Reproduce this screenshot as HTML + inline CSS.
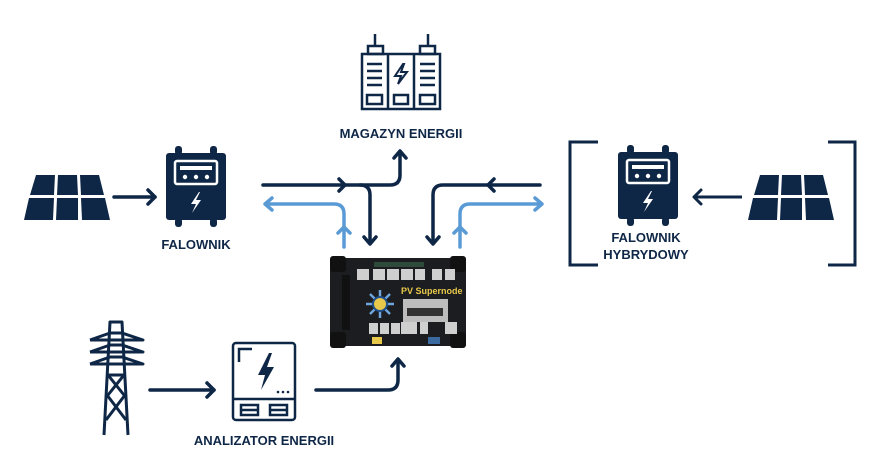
<!DOCTYPE html>
<html><head><meta charset="utf-8"><style>
html,body{margin:0;padding:0;background:#fff;}
svg{display:block;}
text{font-family:"Liberation Sans",sans-serif;font-weight:bold;fill:#0f2747;}
</style></head><body>
<svg width="880" height="468" viewBox="0 0 880 468" xmlns="http://www.w3.org/2000/svg">
<defs>
<g id="panel">
<polygon points="12,0 31,0 30,20 6,20" fill="#0f2747"/>
<polygon points="34,0 53,0 54,20 33,20" fill="#0f2747"/>
<polygon points="56,0 75,0 80,20 57,20" fill="#0f2747"/>
<polygon points="5,23 30,23 29,45 0,45" fill="#0f2747"/>
<polygon points="33,23 54,23 54,45 32,45" fill="#0f2747"/>
<polygon points="57,23 81,23 86,45 58,45" fill="#0f2747"/>
</g>
<g id="inv">
<rect x="0" y="0" width="60" height="67" rx="3" fill="#0f2747"/>
<rect x="9" y="-7" width="7" height="9" rx="3" fill="#0f2747"/>
<rect x="44" y="-7" width="7" height="9" rx="3" fill="#0f2747"/>
<rect x="9" y="65" width="7" height="9" rx="3" fill="#0f2747"/>
<rect x="44" y="65" width="7" height="9" rx="3" fill="#0f2747"/>
<rect x="9" y="8" width="42" height="23" rx="2" fill="none" stroke="#fff" stroke-width="2.5"/>
<rect x="14" y="13" width="32" height="4" fill="#fff"/>
<circle cx="19" cy="24" r="2.2" fill="#fff"/><circle cx="30" cy="24" r="2.2" fill="#fff"/><circle cx="41" cy="24" r="2.2" fill="#fff"/>
<polygon points="33,39 25,51 30,51 26,60 35,47 30,47 34,39" fill="#fff"/>
</g>
</defs>

<use href="#panel" x="24" y="175"/>
<g stroke="#0f2747" stroke-width="3.5" fill="none" stroke-linecap="round" stroke-linejoin="round">
<line x1="114" y1="197" x2="155" y2="197"/><polyline points="148,190 155,197 148,204"/>
</g>
<use href="#inv" x="166" y="153"/>
<text x="196" y="249" font-size="13" text-anchor="middle">FALOWNIK</text>

<g stroke="#0f2747" stroke-width="2.5" fill="none">
<rect x="362" y="54" width="78" height="55"/>
<line x1="388" y1="54" x2="388" y2="109"/><line x1="414" y1="54" x2="414" y2="109"/>
<rect x="368" y="46" width="15" height="8"/><rect x="420" y="46" width="15" height="8"/>
<line x1="375" y1="34" x2="375" y2="46"/><line x1="428" y1="34" x2="428" y2="46"/>
<line x1="367" y1="64" x2="382" y2="64"/><line x1="367" y1="71" x2="382" y2="71"/><line x1="367" y1="78" x2="382" y2="78"/><line x1="367" y1="85" x2="382" y2="85"/>
<line x1="420" y1="64" x2="435" y2="64"/><line x1="420" y1="71" x2="435" y2="71"/><line x1="420" y1="78" x2="435" y2="78"/><line x1="420" y1="85" x2="435" y2="85"/>
<rect x="367" y="95" width="15" height="9"/><rect x="394" y="95" width="14" height="9"/><rect x="420" y="95" width="15" height="9"/>
<polygon points="403,64 395,76 401,76 398,84 407,72 401,72 404,64" stroke-width="2"/>
</g>
<text x="401" y="138" font-size="13" text-anchor="middle">MAGAZYN ENERGII</text>

<g stroke="#0f2747" stroke-width="3.5" fill="none" stroke-linecap="round" stroke-linejoin="round">
<path d="M263,185 H390 Q400,185 400,175 V152"/><polyline points="394,158 400,151 406,158"/>
<polyline points="339,179 345,185 339,191"/>
<path d="M360,185 Q370,185 370,195 V243"/><polyline points="364,237 370,244 376,237"/>
<path d="M540,185 H443 Q433,185 433,195 V243"/><polyline points="427,237 433,244 439,237"/>
<polyline points="494,179 488,185 494,191"/>
</g>
<g stroke="#5b9bd5" stroke-width="3.5" fill="none" stroke-linecap="round" stroke-linejoin="round">
<path d="M344,247 V214 Q344,204 334,204 H266"/><polyline points="272,198 265,204 272,210"/>
<polyline points="338,233 344,227 350,233"/>
<path d="M460,247 V214 Q460,204 470,204 H541"/><polyline points="535,198 542,204 535,210"/>
<polyline points="454,233 460,227 466,233"/>
</g>

<g>
<rect x="330" y="258" width="136" height="88" rx="3" fill="#1b1d20"/>
<rect x="330" y="256" width="16" height="16" rx="3" fill="#111"/><rect x="450" y="256" width="16" height="16" rx="3" fill="#111"/>
<rect x="330" y="332" width="16" height="16" rx="3" fill="#111"/><rect x="450" y="332" width="16" height="16" rx="3" fill="#111"/>
<rect x="374" y="262" width="50" height="5" fill="#2d4a3a"/>
<rect x="342" y="275" width="8" height="55" fill="#111"/>
<g fill="#cfcfcf"><rect x="357" y="269" width="12" height="11"/><rect x="373" y="269" width="12" height="11"/><rect x="387" y="269" width="12" height="11"/><rect x="401" y="269" width="12" height="11"/><rect x="415" y="269" width="10" height="11"/><rect x="432" y="269" width="10" height="11"/><rect x="445" y="269" width="10" height="11"/>
<rect x="403" y="299" width="45" height="23" fill="#bdbdbd"/>
<rect x="369" y="323" width="9" height="11"/><rect x="380" y="323" width="9" height="11"/><rect x="391" y="323" width="9" height="11"/><rect x="401" y="322" width="16" height="12"/><rect x="420" y="322" width="8" height="12"/><rect x="445" y="322" width="12" height="12"/></g>
<g fill="#333"><rect x="407" y="308" width="36" height="8"/></g>
<g stroke="#6fa4dc" stroke-width="2.5"><line x1="380" y1="290" x2="380" y2="318"/><line x1="366" y1="304" x2="394" y2="304"/><line x1="370" y1="294" x2="390" y2="314"/><line x1="390" y1="294" x2="370" y2="314"/></g>
<circle cx="380" cy="304" r="7" fill="#e8c84a" stroke="#1f4e8a" stroke-width="2"/>
<text x="401" y="294" font-size="9" style="fill:#e8c84a">PV Supernode</text>
<rect x="372" y="337" width="10" height="7" fill="#e8c84a"/>
<rect x="428" y="337" width="12" height="7" fill="#3a6aa0"/>
</g>

<g stroke="#0f2747" stroke-width="3.5" fill="none" stroke-linecap="round" stroke-linejoin="round">
<line x1="150" y1="390" x2="214" y2="390"/><polyline points="207,383 214,390 207,397"/>
<path d="M316,390 H388 Q398,390 398,380 V360"/><polyline points="392,366 398,359 404,366"/>
</g>
<g stroke="#0f2747" stroke-width="3" fill="none" stroke-linejoin="round">
<polyline points="104,435 110,322 122,322 128,435"/>
<polyline points="90,340 110,333 122,333 143,340 90,340"/>
<polyline points="90,352 110,345 122,345 143,352 90,352"/>
<polyline points="90,364 110,357 122,357 143,364 90,364"/>
<line x1="108" y1="375" x2="124" y2="395"/><line x1="124" y1="375" x2="108" y2="395"/>
<line x1="107" y1="395" x2="126" y2="420"/><line x1="125" y1="395" x2="106" y2="420"/>
<line x1="108" y1="375" x2="124" y2="375"/>
</g>
<g stroke="#0f2747" stroke-width="2.5" fill="none">
<rect x="233" y="343" width="62" height="77" rx="3"/>
<line x1="233" y1="399" x2="295" y2="399"/>
<rect x="241" y="405" width="17" height="10"/><line x1="241" y1="410" x2="258" y2="410"/>
<rect x="270" y="405" width="17" height="10"/><line x1="270" y1="410" x2="287" y2="410"/>
<polyline points="239,362 239,349 252,349"/>
</g>
<polygon points="269,353 258,375 265,375 261,390 274,367 267,367 272,353" fill="#0f2747"/>
<g fill="#0f2747"><circle cx="278" cy="392" r="1.3"/><circle cx="283" cy="392" r="1.3"/><circle cx="288" cy="392" r="1.3"/></g>
<text x="264" y="445" font-size="13" text-anchor="middle">ANALIZATOR ENERGII</text>

<g stroke="#0f2747" stroke-width="3" fill="none">
<polyline points="598,142 570,142 570,265 598,265"/>
<polyline points="828,142 855,142 855,265 828,265"/>
<line x1="742" y1="197" x2="694" y2="197"/><polyline points="701,190 694,197 701,204" stroke-linecap="round" stroke-linejoin="round"/>
</g>
<use href="#inv" x="618" y="152"/>
<use href="#panel" x="748" y="175"/>
<text x="646" y="242" font-size="13" text-anchor="middle">FALOWNIK</text>
<text x="646" y="259" font-size="13" text-anchor="middle">HYBRYDOWY</text>
</svg>
</body></html>
